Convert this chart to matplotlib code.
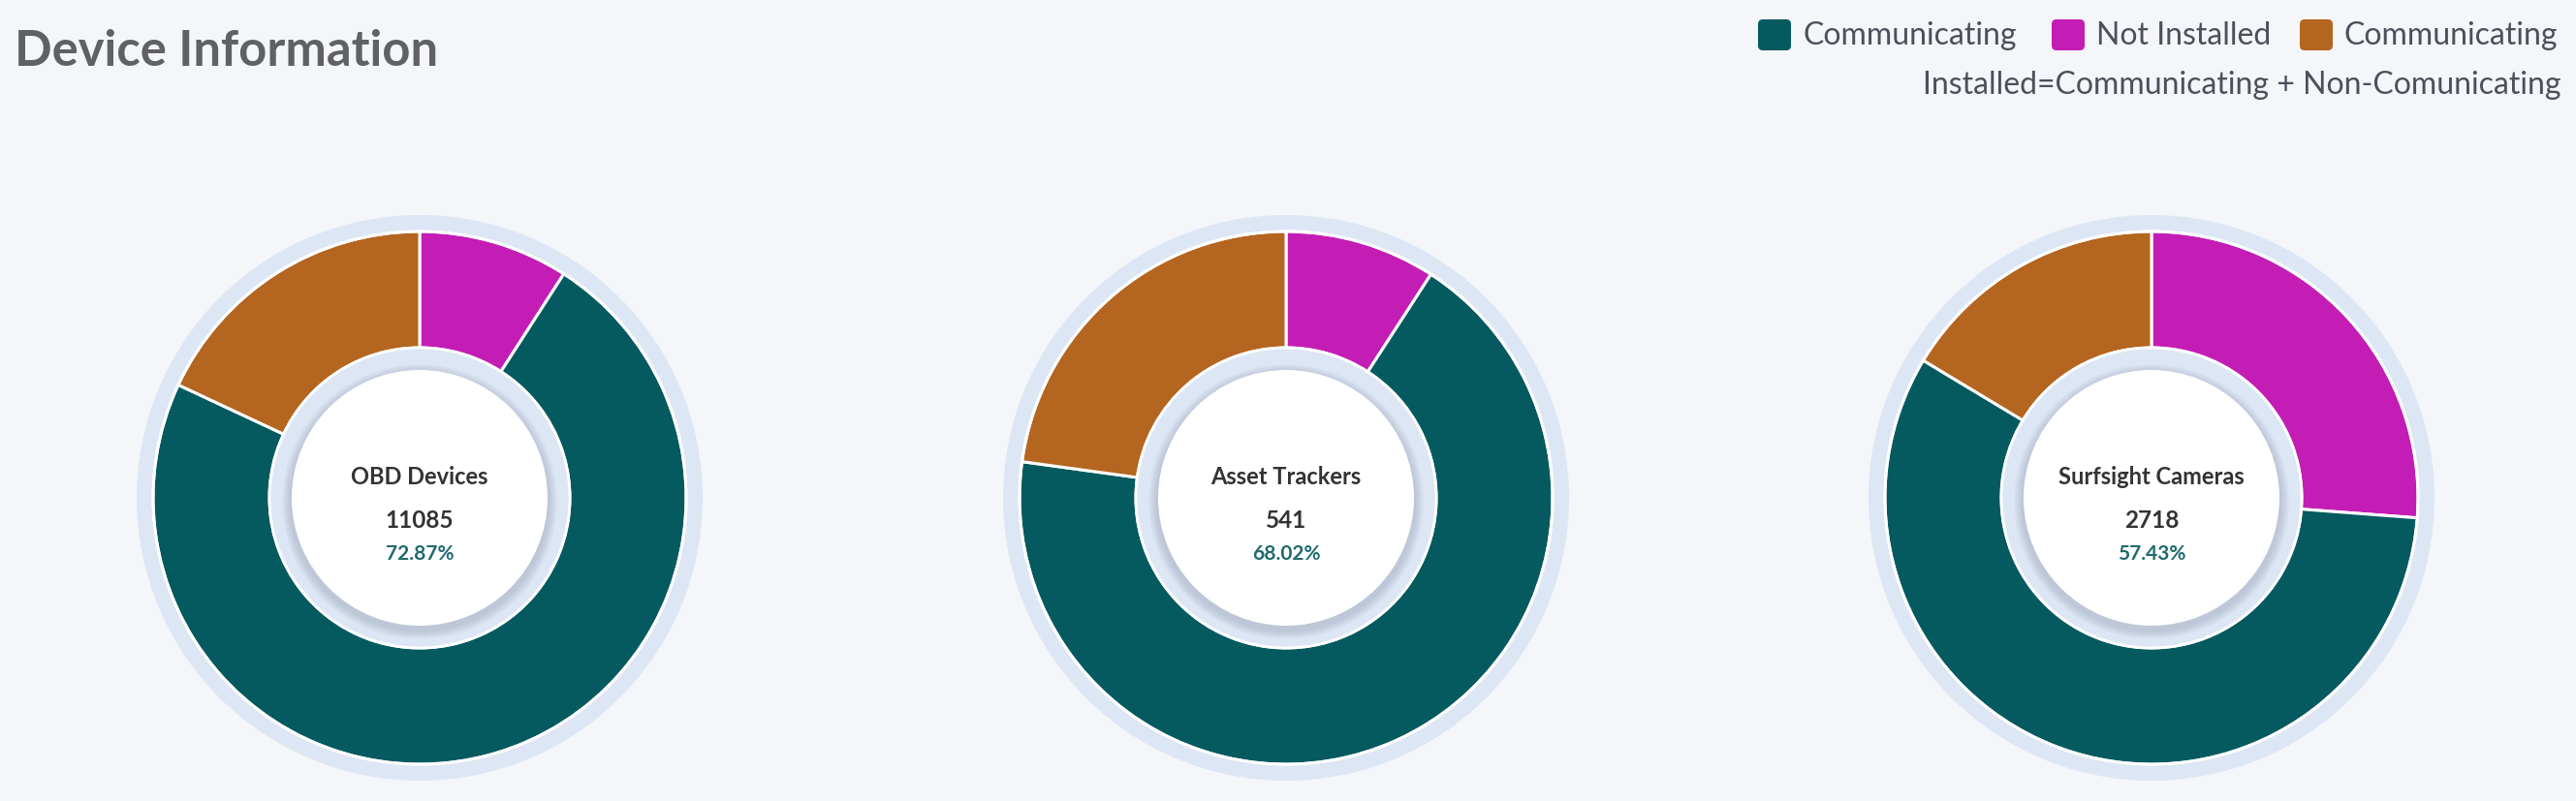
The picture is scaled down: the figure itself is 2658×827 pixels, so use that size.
import matplotlib
matplotlib.use("Agg")
import matplotlib.pyplot as plt
from matplotlib.patches import Circle, FancyBboxPatch

# ---------------- data ----------------
devices = ["OBD Devices", "Asset Trackers", "Surfsight Cameras"]
totals = [11085, 541, 2718]
communicating = [72.87, 68.02, 57.43]
not_installed = [9.10, 9.15, 26.20]
non_communicating = [18.03, 22.83, 16.37]

legend_labels = ["Communicating", "Not Installed", "Communicating"]
note_text = "Installed=Communicating + Non-Comunicating"
title_text = "Device Information"

# ---------------- style ----------------
W, H, DPI = 2658, 828, 100
BG = "#f5f6fa"
TEAL = "#055a60"
MAGENTA = "#c41db5"
ORANGE = "#b4651f"
RING = "#dde6f4"
FONT = ["Lato", "DejaVu Sans"]

plt.rcParams["font.family"] = FONT

fig = plt.figure(figsize=(W / DPI, H / DPI), dpi=DPI, facecolor=BG)

centers_x = [433, 1327, 2220]
center_y = 515
S = 300
R_PIE = 275
R_HOLE = 155
R_WHITE = 132

for i, name in enumerate(devices):
    cx = centers_x[i]
    ax = fig.add_axes([(cx - S) / W, (H - center_y - S) / H, 2 * S / W, 2 * S / H])
    ax.set_facecolor("none")
    # outer halo ring
    ax.add_patch(Circle((0, 0), 292, facecolor=RING, edgecolor="none", zorder=0))
    vals = [not_installed[i], communicating[i], non_communicating[i]]
    ax.pie(vals, radius=R_PIE, startangle=90, counterclock=False,
           colors=[MAGENTA, TEAL, ORANGE],
           wedgeprops=dict(width=R_PIE - R_HOLE, edgecolor="white", linewidth=2.2))
    # white outline around pie outer edge
    ax.add_patch(Circle((0, 0), R_PIE, facecolor="none", edgecolor="white", linewidth=2.0, zorder=5))
    # inner ring
    ax.add_patch(Circle((0, 0), R_HOLE, facecolor=RING, edgecolor="white", linewidth=2.0, zorder=6))
    # soft shadow of the inner white disc
    for k in range(9):
        ax.add_patch(Circle((0, -4), R_WHITE + 10 - k, facecolor="#7f8aa0",
                            edgecolor="none", alpha=0.04, zorder=7))
    ax.add_patch(Circle((0, 0), R_WHITE, facecolor="white", edgecolor="none", zorder=8))
    ax.text(0, 15, name, ha="center", va="baseline", fontsize=17, fontweight="bold",
            color="#333333", zorder=9)
    ax.text(0, -30, f"{totals[i]}", ha="center", va="baseline", fontsize=17.5,
            fontweight="bold", color="#333333", zorder=9)
    ax.text(0, -63, f"{communicating[i]:.2f}%", ha="center", va="baseline", fontsize=15,
            fontweight="bold", color="#1d6a6e", zorder=9)
    ax.set_xlim(-S, S)
    ax.set_ylim(-S, S)
    ax.set_aspect("equal")
    ax.axis("off")

# overlay for title and legend in pixel coords
ov = fig.add_axes([0, 0, 1, 1])
ov.set_xlim(0, W)
ov.set_ylim(H, 0)
ov.axis("off")
ov.set_facecolor("none")

ov.text(15, 68, title_text, ha="left", va="baseline", fontsize=36.5, fontweight="bold",
        color="#606166")

sq_x = [1814, 2117, 2373]
txt_x = [1861, 2163, 2418]
for c, sx, tx, lab in zip([TEAL, MAGENTA, ORANGE], sq_x, txt_x, legend_labels):
    ov.add_patch(FancyBboxPatch((sx + 5, 21 + 5), 34 - 10, 32 - 10,
                                boxstyle="round,pad=5", facecolor=c, edgecolor="none"))
    ov.text(tx, 46, lab, ha="left", va="baseline", fontsize=23, color="#4b505a")

ov.text(2642, 97, note_text, ha="right", va="baseline", fontsize=23, color="#4b505a")

fig.savefig("out.png", dpi=DPI, facecolor=BG)
